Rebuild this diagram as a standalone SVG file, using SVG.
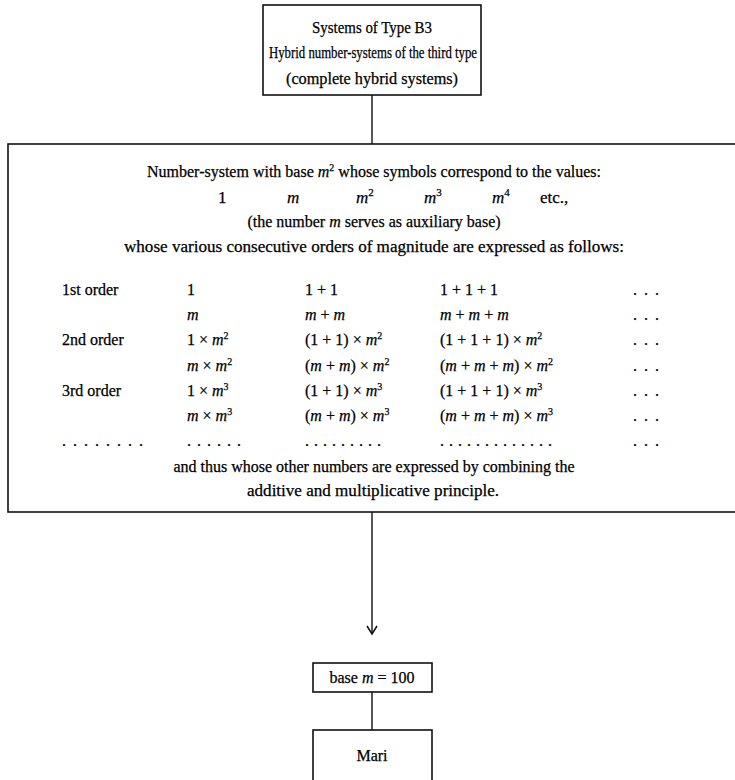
<svg xmlns="http://www.w3.org/2000/svg" width="735" height="780" viewBox="0 0 735 780">
<style>
text{font-family:"Liberation Serif","Times New Roman",serif;fill:#000;stroke:#000;stroke-width:0.25;}
.t{font-size:16px;text-anchor:middle;}
.b{font-size:16px;}
.c{text-anchor:middle;}
.i{font-style:italic;}
.box{fill:#fff;stroke:#111;stroke-width:1.6;}
.ln{stroke:#111;stroke-width:1.4;fill:none;}
.d7{letter-spacing:7px;}
.d6{letter-spacing:6px;}
.d5{letter-spacing:5px;}
</style>
<defs>
<marker id="ah" markerWidth="14" markerHeight="14" refX="11" refY="6" orient="auto" markerUnits="userSpaceOnUse">
<path d="M3,1 L11,6 L3,11" fill="none" stroke="#111" stroke-width="1.5"/>
</marker>
</defs>
<g id="connectors">
<line class="ln" x1="372" y1="95" x2="372" y2="144"/>
<line class="ln" x1="372" y1="512" x2="372" y2="634" marker-end="url(#ah)"/>
<line class="ln" x1="372" y1="692" x2="372" y2="730"/>
</g>
<g id="node-top">
<rect class="box" x="263" y="5" width="218" height="90"/>
<text class="t" x="372" y="33" textLength="120" lengthAdjust="spacingAndGlyphs">Systems of Type B3</text>
<text class="t" x="373" y="58" font-size="14.5" textLength="208" lengthAdjust="spacingAndGlyphs">Hybrid number-systems of the third type</text>
<text class="t" x="372" y="84" textLength="172" lengthAdjust="spacingAndGlyphs">(complete hybrid systems)</text>
</g>
<g id="node-main">
<rect class="box" x="8" y="144" width="740" height="368"/>
<text class="b c" x="374" y="177">Number-system with base <tspan class="i">m</tspan><tspan font-size="10" dy="-6">2</tspan><tspan dy="6"> whose symbols correspond to the values:</tspan></text>
<g font-size="17">
<text x="218" y="203">1</text>
<text class="i" x="287" y="203">m</text>
<text x="356" y="203"><tspan class="i">m</tspan><tspan font-size="11" dy="-7">2</tspan></text>
<text x="424" y="203"><tspan class="i">m</tspan><tspan font-size="11" dy="-7">3</tspan></text>
<text x="492" y="203"><tspan class="i">m</tspan><tspan font-size="11" dy="-7">4</tspan></text>
<text x="540" y="203">etc.,</text>
</g>
<text class="b c" x="374" y="227">(the number <tspan class="i">m</tspan> serves as auxiliary base)</text>
<text class="b c" x="374" y="252" textLength="500" lengthAdjust="spacingAndGlyphs">whose various consecutive orders of magnitude are expressed as follows:</text>

<g class="b">
<text x="62" y="295">1st order</text>
<text x="187" y="295">1</text>
<text x="305" y="295">1 + 1</text>
<text x="440" y="295">1 + 1 + 1</text>
<text class="d7" x="633" y="295">...</text>

<text class="i" x="187" y="320">m</text>
<text x="305" y="320"><tspan class="i">m</tspan> + <tspan class="i">m</tspan></text>
<text x="440" y="320"><tspan class="i">m</tspan> + <tspan class="i">m</tspan> + <tspan class="i">m</tspan></text>
<text class="d7" x="633" y="320">...</text>

<text x="62" y="345">2nd order</text>
<text x="187" y="345">1 × <tspan class="i">m</tspan><tspan font-size="10" dy="-6">2</tspan></text>
<text x="305" y="345">(1 + 1) × <tspan class="i">m</tspan><tspan font-size="10" dy="-6">2</tspan></text>
<text x="440" y="345">(1 + 1 + 1) × <tspan class="i">m</tspan><tspan font-size="10" dy="-6">2</tspan></text>
<text class="d7" x="633" y="345">...</text>

<text x="187" y="371"><tspan class="i">m</tspan> × <tspan class="i">m</tspan><tspan font-size="10" dy="-6">2</tspan></text>
<text x="305" y="371">(<tspan class="i">m</tspan> + <tspan class="i">m</tspan>) × <tspan class="i">m</tspan><tspan font-size="10" dy="-6">2</tspan></text>
<text x="440" y="371">(<tspan class="i">m</tspan> + <tspan class="i">m</tspan> + <tspan class="i">m</tspan>) × <tspan class="i">m</tspan><tspan font-size="10" dy="-6">2</tspan></text>
<text class="d7" x="633" y="371">...</text>

<text x="62" y="396">3rd order</text>
<text x="187" y="396">1 × <tspan class="i">m</tspan><tspan font-size="10" dy="-6">3</tspan></text>
<text x="305" y="396">(1 + 1) × <tspan class="i">m</tspan><tspan font-size="10" dy="-6">3</tspan></text>
<text x="440" y="396">(1 + 1 + 1) × <tspan class="i">m</tspan><tspan font-size="10" dy="-6">3</tspan></text>
<text class="d7" x="633" y="396">...</text>

<text x="187" y="421"><tspan class="i">m</tspan> × <tspan class="i">m</tspan><tspan font-size="10" dy="-6">3</tspan></text>
<text x="305" y="421">(<tspan class="i">m</tspan> + <tspan class="i">m</tspan>) × <tspan class="i">m</tspan><tspan font-size="10" dy="-6">3</tspan></text>
<text x="440" y="421">(<tspan class="i">m</tspan> + <tspan class="i">m</tspan> + <tspan class="i">m</tspan>) × <tspan class="i">m</tspan><tspan font-size="10" dy="-6">3</tspan></text>
<text class="d7" x="633" y="421">...</text>

<text class="d7" x="62" y="446">........</text>
<text class="d6" x="187" y="446">......</text>
<text class="d5" x="305" y="446">.........</text>
<text class="d5" x="440" y="446">.............</text>
<text class="d7" x="633" y="446">...</text>
</g>
<text class="b c" x="374" y="472">and thus whose other numbers are expressed by combining the</text>
<text class="b c" x="373" y="496" textLength="252" lengthAdjust="spacingAndGlyphs">additive and multiplicative principle.</text>
</g>
<g id="node-base">
<rect class="box" x="313" y="663" width="119" height="29"/>
<text class="b c" x="372" y="683">base <tspan class="i">m</tspan> = 100</text>
</g>
<g id="node-mari">
<rect class="box" x="313" y="730" width="119" height="60"/>
<text class="b c" x="372" y="761">Mari</text>
</g>
</svg>
